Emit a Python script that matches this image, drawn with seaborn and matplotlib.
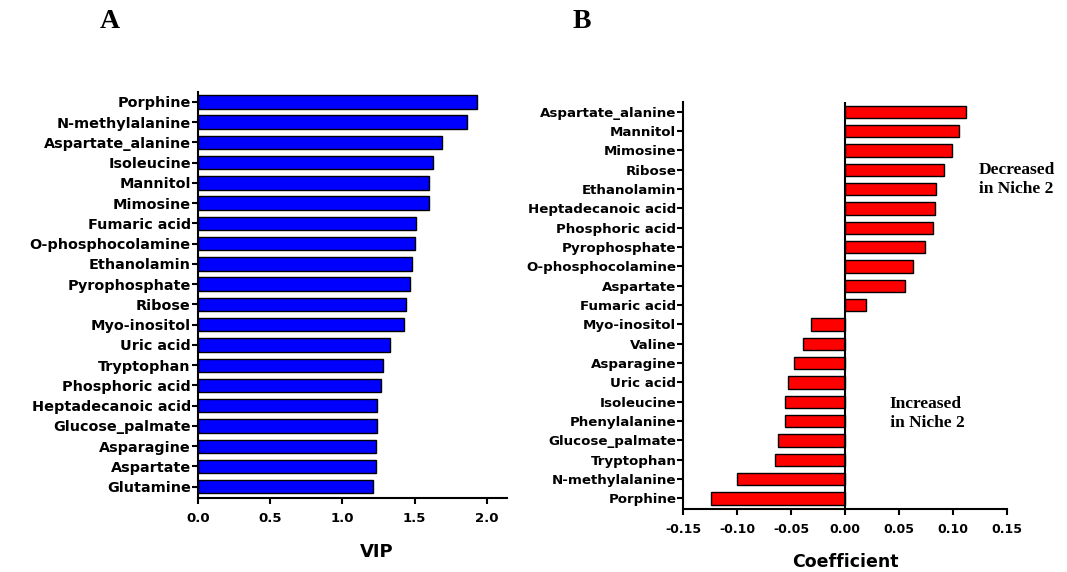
import matplotlib
matplotlib.use("Agg")
import matplotlib.pyplot as plt
import seaborn as sns
import pandas as pd

# VIP scores (panel A)
vip_names = ["Porphine", "N-methylalanine", "Aspartate_alanine", "Isoleucine", "Mannitol",
             "Mimosine", "Fumaric acid", "O-phosphocolamine", "Ethanolamin", "Pyrophosphate",
             "Ribose", "Myo-inositol", "Uric acid", "Tryptophan", "Phosphoric acid",
             "Heptadecanoic acid", "Glucose_palmate", "Asparagine", "Aspartate", "Glutamine"]
vip_values = [1.93, 1.86, 1.69, 1.63, 1.60, 1.60, 1.51, 1.50, 1.48, 1.47,
              1.44, 1.43, 1.33, 1.28, 1.265, 1.24, 1.24, 1.23, 1.23, 1.21]
vip_ticks = [0.0, 0.5, 1.0, 1.5, 2.0]

# Regression coefficients (panel B)
coef_names = ["Aspartate_alanine", "Mannitol", "Mimosine", "Ribose", "Ethanolamin",
              "Heptadecanoic acid", "Phosphoric acid", "Pyrophosphate", "O-phosphocolamine",
              "Aspartate", "Fumaric acid", "Myo-inositol", "Valine", "Asparagine", "Uric acid",
              "Isoleucine", "Phenylalanine", "Glucose_palmate", "Tryptophan", "N-methylalanine",
              "Porphine"]
coef_values = [0.112, 0.1057, 0.0992, 0.0917, 0.084, 0.0832, 0.0812, 0.0738, 0.0631,
               0.0556, 0.0194, -0.0312, -0.0389, -0.0474, -0.0533, -0.056, -0.056,
               -0.0626, -0.0653, -0.1003, -0.1243]
coef_ticks = [-0.15, -0.10, -0.05, 0.00, 0.05, 0.10, 0.15]

sns.set_style("ticks", {"axes.edgecolor": "black", "text.color": "black",
                        "xtick.color": "black", "ytick.color": "black",
                        "axes.labelcolor": "black"})
plt.rcParams["font.family"] = ["DejaVu Sans"]

fig = plt.figure(figsize=(10.67, 5.72), dpi=100)
ax_a = fig.add_axes([0.1853, 0.1299, 0.2899, 0.7098])
ax_b = fig.add_axes([0.6404, 0.1101, 0.3031, 0.7121])

df_a = pd.DataFrame({"name": vip_names, "VIP": vip_values})
sns.barplot(data=df_a, x="VIP", y="name", ax=ax_a, color="#0000FF",
            edgecolor="black", linewidth=1.0, width=0.66, saturation=1)
ax_a.set_xlim(0, 2.14)
ax_a.set_ylim(len(vip_names) - 0.46, -0.5)
ax_a.set_xticks(vip_ticks)
ax_a.set_xticklabels([f"{t:.1f}" for t in vip_ticks])
ax_a.set_ylabel("")
ax_a.set_xlabel("VIP", fontsize=13, fontweight="bold", va="center")
ax_a.xaxis.set_label_coords(0.579, -0.133)

df_b = pd.DataFrame({"name": coef_names, "Coefficient": coef_values})
sns.barplot(data=df_b, x="Coefficient", y="name", ax=ax_b, color="#FF0000",
            edgecolor="black", linewidth=1.0, width=0.64, saturation=1)
ax_b.axvline(0, color="black", lw=1.5, zorder=3)
ax_b.set_xlim(-0.15, 0.15)
ax_b.set_ylim(len(coef_names) - 0.45, -0.52)
ax_b.set_xticks(coef_ticks)
ax_b.set_xticklabels([f"{t:.2f}" for t in coef_ticks])
ax_b.set_ylabel("")
ax_b.set_xlabel("Coefficient", fontsize=12.5, fontweight="bold", va="center")
ax_b.xaxis.set_label_coords(0.5, -0.129)

for ax, ysize, xsize in ((ax_a, 10.4, 9.5), (ax_b, 9.6, 9.0)):
    sns.despine(ax=ax)
    for s in ("left", "bottom"):
        ax.spines[s].set_linewidth(1.5)
    ax.tick_params(axis="both", direction="out", length=4, width=1.5, pad=1,
                   colors="black")
    ax.tick_params(axis="x", pad=6)
    for lab in ax.get_yticklabels():
        lab.set_fontweight("bold")
        lab.set_fontsize(ysize)
    for lab in ax.get_xticklabels():
        lab.set_fontweight("bold")
        lab.set_fontsize(xsize)

serif = ["Liberation Serif", "DejaVu Serif"]
fig.text(110 / 1067, 1 - 22 / 572, "A", fontsize=20, fontweight="bold",
         family=serif, ha="center", va="center")
fig.text(582 / 1067, 1 - 22 / 572, "B", fontsize=20, fontweight="bold",
         family=serif, ha="center", va="center")
ax_b.text(0.1243, 3.52, "Decreased\nin Niche 2", fontsize=12.5, fontweight="bold",
          family=serif, ha="left", va="center", linespacing=1.25)
ax_b.text(0.0745, 15.61, "Increased\n in Niche 2", fontsize=12.5, fontweight="bold",
          family=serif, ha="center", va="center", linespacing=1.25)

fig.savefig("out.png", dpi=100)
